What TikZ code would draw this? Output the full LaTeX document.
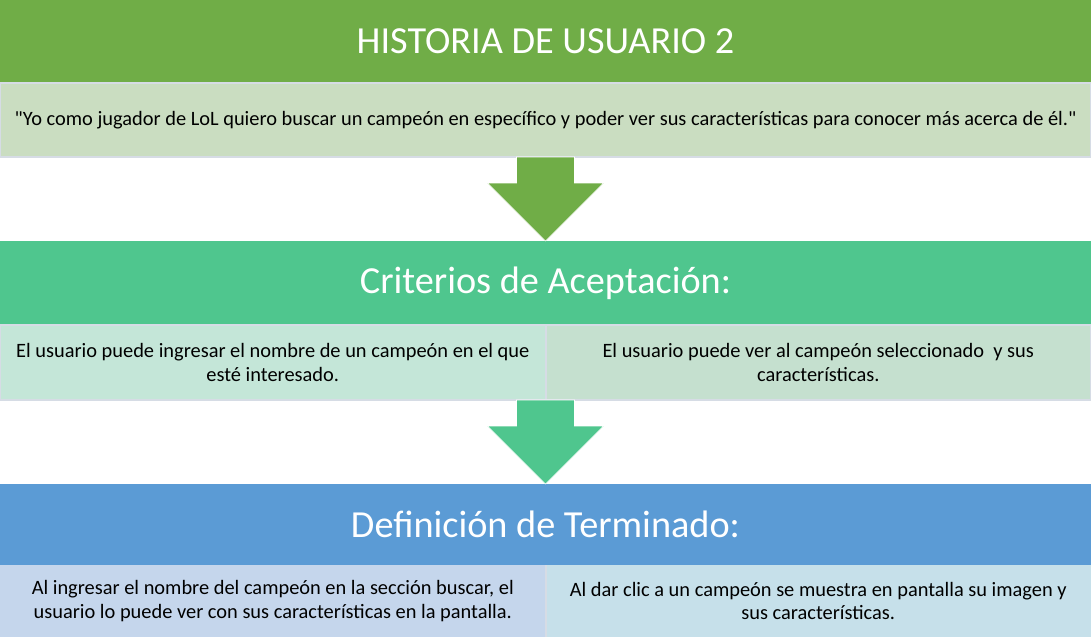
\documentclass[tikz,border=0pt]{standalone}
\usepackage{fontspec}
\setmainfont{Carlito}[Ligatures=TeXOff]
\usetikzlibrary{positioning,calc}
\definecolor{verde}{RGB}{112,173,71}
\definecolor{verdeclaro}{RGB}{202,221,193}
\definecolor{turquesa}{RGB}{79,198,142}
\definecolor{turqclaroA}{RGB}{196,230,216}
\definecolor{turqclaroB}{RGB}{197,224,207}
\definecolor{azul}{RGB}{91,155,213}
\definecolor{azulclaroA}{RGB}{197,214,236}
\definecolor{azulclaroB}{RGB}{198,224,234}
\definecolor{linea}{RGB}{214,220,229}
% flecha de bloque: {inicio}{nodo destino}{color}
\newcommand{\flecha}[3]{%
  \fill[#3, draw=white, line width=0.5pt]
    ($(#1)+(-29,0)$) -- ($(#1)+(29,0)$) -- ($(#1)+(29,26)$) -- ($(#1)+(58,26)$)
    -- (#2.north) -- ($(#1)+(-58,26)$) -- ($(#1)+(-29,26)$) -- cycle;
}
\tikzset{
  cabecera/.style={
    text=white,
    font=\fontsize{28.7}{34}\selectfont,
    minimum width=818.25pt,
    inner sep=0pt,
    outer sep=0pt
  },
  celda/.style={
    draw=linea,
    line width=1.5pt,
    font=\fontsize{15.3}{17.4}\selectfont,
    align=center,
    inner sep=0pt,
    outer sep=0pt
  }
}

\begin{document}
\begin{tikzpicture}[x=0.75pt,y=-0.75pt]
    \useasboundingbox (0,0) rectangle (1091,637);
    \node [cabecera, fill=verde, minimum height=62.25pt, anchor=north west] (Hist) at (0,0) {HISTORIA DE USUARIO 2};
    \node [celda, fill=verdeclaro, minimum width=818.25pt, minimum height=55.5pt, below=0pt of Hist] (Frase) {"Yo como jugador de LoL quiero buscar un campeón en específico y poder ver sus características para conocer más acerca de él."};
    \node [cabecera, fill=turquesa, minimum height=63pt, below=63pt of Frase] (Crit) {Criterios de Aceptación:};
    \node [celda, fill=turqclaroA, minimum width=409.125pt, minimum height=56.25pt, below=0pt of Crit.south west, anchor=north west] (CritA) {El usuario puede ingresar el nombre de un campeón en el que\\ esté interesado.};
    \node [celda, fill=turqclaroB, minimum width=409.125pt, minimum height=56.25pt, below=0pt of Crit.south east, anchor=north east] (CritB) {El usuario puede ver al campeón seleccionado \ y sus\\ características.};
    \node [cabecera, fill=azul, minimum height=60.75pt, below=63pt of CritA.south west, anchor=north west] (Def) {Definición de Terminado:};
    \node [celda, draw=none, fill=azulclaroA, minimum width=409.125pt, minimum height=54pt, below=0pt of Def.south west, anchor=north west] (DefA) {Al ingresar el nombre del campeón en la sección buscar, el\\ usuario lo puede ver con sus características en la pantalla.};
    \node [celda, draw=none, fill=azulclaroB, minimum width=409.125pt, minimum height=54pt, below=0pt of Def.south east, anchor=north east] (DefB) {Al dar clic a un campeón se muestra en pantalla su imagen y\\ sus características.};
    \draw [linea, line width=1.5pt] (DefA.north east) -- (DefA.south east);
    \flecha{Frase.south}{Crit}{verde}
    \flecha{CritA.south east}{Def}{turquesa}
  \end{tikzpicture}
\end{document}
